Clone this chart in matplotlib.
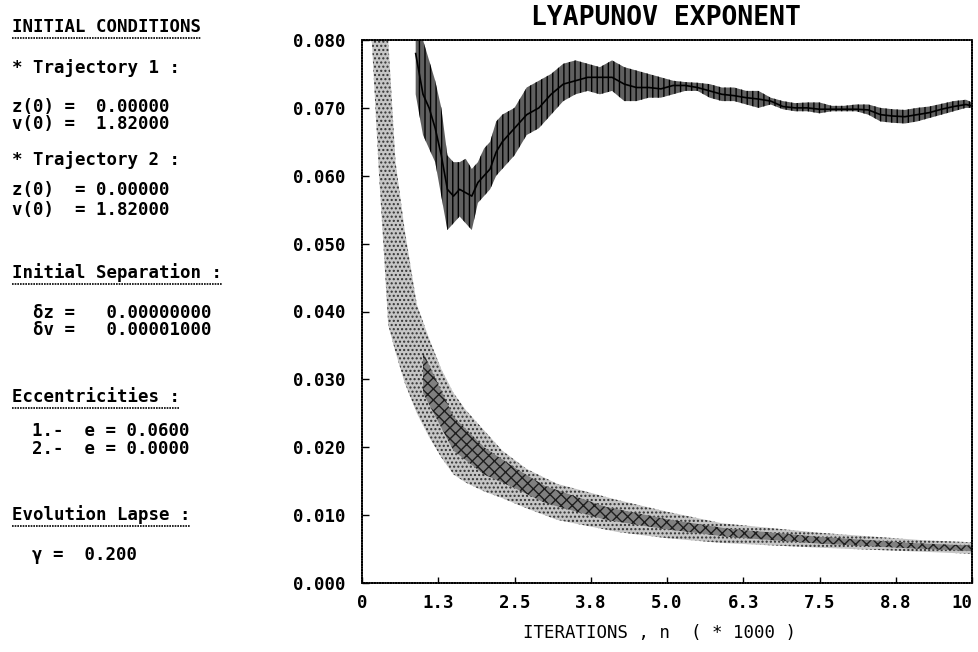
import matplotlib
matplotlib.use("Agg")
import matplotlib.pyplot as plt
from matplotlib.lines import Line2D

plt.rcParams['font.family'] = ['DejaVu Sans Mono']

# trajectory 1 : noisy exponent curve (centre and spread)
t1_x = [0.88, 1.00, 1.10, 1.20, 1.30, 1.40, 1.50, 1.60, 1.70, 1.80, 1.90, 2.00, 2.10,
        2.20, 2.30, 2.50, 2.70, 2.90, 3.10, 3.30, 3.50, 3.70, 3.90, 4.10, 4.30, 4.50,
        4.70, 4.90, 5.10, 5.30, 5.50, 5.70, 5.90, 6.10, 6.30, 6.50, 6.70, 6.90, 7.10,
        7.30, 7.50, 7.70, 7.90, 8.10, 8.30, 8.50, 8.70, 8.90, 9.10, 9.30, 9.50, 9.70,
        9.90, 10.0]
t1_mid = [0.0780, 0.0720, 0.0700, 0.0670, 0.0630, 0.0580, 0.0570, 0.0580, 0.0575, 0.0570,
          0.0590, 0.0600, 0.0610, 0.0635, 0.0650, 0.0670, 0.0690, 0.0700, 0.0720, 0.0735,
          0.0740, 0.0745, 0.0745, 0.0745, 0.0735, 0.0730, 0.0730, 0.0728, 0.0733, 0.0733,
          0.0730, 0.0725, 0.0720, 0.0718, 0.0715, 0.0713, 0.0710, 0.0702, 0.0700, 0.0700,
          0.0698, 0.0698, 0.0698, 0.0698, 0.0697, 0.0690, 0.0688, 0.0687, 0.0690, 0.0693,
          0.0698, 0.0702, 0.0705, 0.0703]
t1_lo = [0.0720, 0.0660, 0.0640, 0.0620, 0.0570, 0.0520, 0.0530, 0.0540, 0.0530, 0.0520,
         0.0560, 0.0570, 0.0580, 0.0600, 0.0610, 0.0630, 0.0660, 0.0670, 0.0690, 0.0710,
         0.0720, 0.0725, 0.0720, 0.0725, 0.0710, 0.0710, 0.0715, 0.0715, 0.0720, 0.0725,
         0.0725, 0.0715, 0.0710, 0.0710, 0.0705, 0.0700, 0.0705, 0.0698, 0.0695, 0.0695,
         0.0692, 0.0695, 0.0695, 0.0695, 0.0690, 0.0680, 0.0678, 0.0677, 0.0680, 0.0685,
         0.0690, 0.0695, 0.0700, 0.0700]
t1_hi = [0.0850, 0.0800, 0.0770, 0.0740, 0.0700, 0.0630, 0.0620, 0.0620, 0.0625, 0.0610,
         0.0620, 0.0640, 0.0650, 0.0680, 0.0690, 0.0700, 0.0730, 0.0740, 0.0750, 0.0765,
         0.0770, 0.0765, 0.0760, 0.0770, 0.0760, 0.0755, 0.0750, 0.0745, 0.0740, 0.0738,
         0.0737, 0.0735, 0.0730, 0.0730, 0.0725, 0.0725, 0.0715, 0.0710, 0.0707, 0.0708,
         0.0708, 0.0703, 0.0703, 0.0705, 0.0705, 0.0700, 0.0698, 0.0697, 0.0700, 0.0702,
         0.0706, 0.0710, 0.0712, 0.0708]

# trajectory 2 : decaying dotted band (outer edges and dense core)
t2_x = [0.16, 0.22, 0.28, 0.35, 0.43, 0.55, 0.70, 0.90, 1.10, 1.30, 1.50, 1.70, 2.00,
        2.30, 2.70, 3.20, 4.20, 5.00, 5.90, 7.50, 9.20, 10.0]
t2_lo = [0.0800, 0.0700, 0.0600, 0.0500, 0.0380, 0.0340, 0.0295, 0.0250, 0.0215, 0.0185,
         0.0160, 0.0148, 0.0135, 0.0125, 0.0110, 0.0093, 0.0075, 0.0066, 0.0059, 0.0052,
         0.0046, 0.0043]
t2_hi = [0.0900, 0.0900, 0.0900, 0.0900, 0.0800, 0.0620, 0.0520, 0.0410, 0.0360, 0.0315,
         0.0280, 0.0255, 0.0225, 0.0195, 0.0168, 0.0146, 0.0122, 0.0105, 0.0088, 0.0074,
         0.0063, 0.0060]
core_x = [1.0, 1.5, 2.0, 2.5, 3.0, 4.0, 5.0, 6.0, 7.5, 9.0, 10.0]
core_lo = [0.028, 0.0195, 0.016, 0.014, 0.0118, 0.0093, 0.0079, 0.0068, 0.0058, 0.0051, 0.0047]
core_hi = [0.034, 0.0245, 0.020, 0.017, 0.0143, 0.0112, 0.0094, 0.0080, 0.0068, 0.0059, 0.0055]

xticks = [0, 1.25, 2.5, 3.75, 5.0, 6.25, 7.5, 8.75, 10]
xtick_labels = ['0', '1.3', '2.5', '3.8', '5.0', '6.3', '7.5', '8.8', '10']
yticks = [0.0, 0.01, 0.02, 0.03, 0.04, 0.05, 0.06, 0.07, 0.08]

W, H = 979, 652
fig = plt.figure(figsize=(W / 100, H / 100), dpi=100)
ax = fig.add_axes([362 / W, 1 - 583 / H, 610 / W, 543 / H])

# band of trajectory 2
ax.fill_between(t2_x, t2_lo, t2_hi, facecolor='#c6c6c6', edgecolor='#333333',
                hatch='....', linewidth=0)
ax.fill_between(core_x, core_lo, core_hi, facecolor='#808080', edgecolor='#1e1e1e',
                hatch='xxx', linewidth=0)

# trajectory 1
ax.fill_between(t1_x, t1_lo, t1_hi, facecolor='#606060', edgecolor='black',
                hatch='|||', linewidth=0)
ax.plot(t1_x, t1_mid, color='black', linewidth=1.2)

ax.set_xlim(0, 10)
ax.set_ylim(0, 0.080)
ax.set_xticks(xticks)
ax.set_xticklabels(xtick_labels)
ax.set_yticks(yticks)
ax.set_yticklabels(['%.3f' % v for v in yticks])
ax.tick_params(axis='y', direction='in', length=5, width=1, pad=12, labelsize=12.5)
ax.tick_params(axis='x', direction='in', length=4, width=1, pad=8, labelsize=12.5)
for lab in ax.get_xticklabels() + ax.get_yticklabels():
    lab.set_fontweight('bold')
ax.get_xticklabels()[-1].set_horizontalalignment('right')
for sp in ax.spines.values():
    sp.set_linestyle((0, (1, 0.6)))
    sp.set_linewidth(1.2)

fig.text(666 / W, 1 - 18 / H, 'LYAPUNOV EXPONENT', ha='center', va='center',
         fontsize=19, fontweight='bold')
fig.text(660 / W, 1 - 633 / H, 'ITERATIONS , n  ( * 1000 )', ha='center', va='center',
         fontsize=12.5)

# left hand panel
panel = [
    (12, 27, 'INITIAL CONDITIONS', True),
    (12, 68, '* Trajectory 1 :', False),
    (12, 107, 'z(0) =  0.00000', False),
    (12, 124, 'v(0) =  1.82000', False),
    (12, 160, '* Trajectory 2 :', False),
    (12, 190, 'z(0)  = 0.00000', False),
    (12, 210, 'v(0)  = 1.82000', False),
    (12, 273, 'Initial Separation :', True),
    (33, 313, 'δz =   0.00000000', False),
    (33, 330, 'δv =   0.00001000', False),
    (12, 397, 'Eccentricities :', True),
    (32, 431, '1.-  e = 0.0600', False),
    (32, 449, '2.-  e = 0.0000', False),
    (12, 515, 'Evolution Lapse :', True),
    (32, 555, 'γ =  0.200', False),
]
fig.canvas.draw()
renderer = fig.canvas.get_renderer()
for px, py, txt, underline in panel:
    t = fig.text(px / W, 1 - py / H, txt, ha='left', va='center',
                 fontsize=12.5, fontweight='bold')
    if underline:
        bb = t.get_window_extent(renderer)
        uy = 1 - (py + 11) / H
        fig.add_artist(Line2D([bb.x0 / W, bb.x1 / W], [uy, uy], color='black',
                              linewidth=1.2, linestyle=(0, (1, 0.6))))

fig.savefig('out.png', dpi=100)
